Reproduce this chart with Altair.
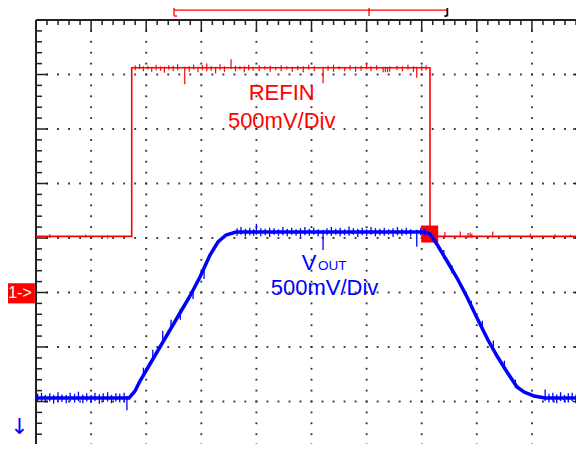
import altair as alt
import pandas as pd

# ---------------- screen geometry (divisions) ----------------
X_DIVS = 10
Y_DIVS = 8
MINOR = 5
x_view = [0.0, 9.800]       # visible part of the 10 horizontal divisions
y_view = [0.2202, 8.0]      # visible part of the 8 vertical divisions

# ---------------- REFIN trace (div units) ----------------
refin_x = [0.0, 1.737, 1.737, 7.15, 7.15, 10.0]
refin_y = [4.03, 4.03, 7.125, 7.125, 4.03, 4.03]

refin_spike_x = [0.25, 0.90, 1.30,
                 1.80, 1.88, 1.95, 2.03, 2.10, 2.18, 2.26, 2.33, 2.41, 2.49, 2.57, 2.70, 2.78,
                 2.86, 2.94, 3.02, 3.10, 3.18, 3.26, 3.34, 3.42, 3.54, 3.62, 3.70, 3.78, 3.86,
                 3.94, 4.05, 4.15, 4.25, 4.35, 4.45, 4.55, 4.65, 4.75, 4.85, 4.95, 5.05, 5.21,
                 5.30, 5.40, 5.50, 5.60, 5.70, 5.80, 5.90, 6.00, 6.08, 6.18, 6.30, 6.34, 6.38,
                 6.42, 6.55, 6.65, 6.75, 6.85, 6.91, 7.00, 7.08,
                 7.42, 7.70, 7.84, 7.88, 7.91, 8.29, 8.60, 8.97, 9.42, 9.70]
refin_spike_lo = [4.00, 4.01, 3.99,
                  7.08, 7.10, 7.06, 7.09, 7.05, 7.08, 7.07, 7.03, 7.09, 7.06, 7.08, 6.82, 7.05,
                  7.09, 7.04, 7.08, 7.06, 7.07, 7.02, 7.08, 7.05, 7.10, 7.06, 7.09, 7.04, 7.08,
                  7.07, 7.06, 7.09, 7.05, 7.08, 7.06, 7.09, 7.05, 7.08, 7.04, 7.09, 7.06, 6.84,
                  7.07, 7.05, 7.09, 7.06, 7.08, 7.05, 7.07, 7.10, 7.06, 7.08, 7.04, 7.04, 7.04,
                  7.05, 7.08, 7.06, 7.09, 7.05, 6.94, 7.07, 7.08,
                  4.01, 4.01, 4.00, 4.01, 4.00, 4.01, 4.01, 4.01, 4.01, 4.02]
refin_spike_hi = [4.07, 4.06, 4.05,
                  7.17, 7.19, 7.15, 7.16, 7.14, 7.18, 7.15, 7.14, 7.17, 7.16, 7.19, 7.14, 7.15,
                  7.18, 7.14, 7.17, 7.20, 7.15, 7.14, 7.19, 7.15, 7.28, 7.16, 7.15, 7.15, 7.18,
                  7.14, 7.17, 7.15, 7.16, 7.14, 7.17, 7.15, 7.14, 7.16, 7.15, 7.18, 7.15, 7.14,
                  7.16, 7.18, 7.15, 7.14, 7.17, 7.15, 7.16, 7.21, 7.15, 7.17, 7.14, 7.14, 7.14,
                  7.15, 7.16, 7.15, 7.18, 7.15, 7.14, 7.16, 7.17,
                  4.11, 4.12, 4.09, 4.10, 4.08, 4.12, 4.05, 4.08, 4.07, 4.06]

# ---------------- VOUT trace (div units) ----------------
vout_x = [0.0, 1.688, 1.797, 1.887, 2.069, 2.250, 2.432, 2.613, 2.795, 2.976, 3.158,
          3.303, 3.448, 3.630, 7.060, 7.151, 7.296, 7.459, 7.641, 7.822, 8.004, 8.203,
          8.367, 8.548, 8.730, 8.857, 9.038, 9.238, 10.0]
vout_y = [1.064, 1.064, 1.193, 1.376, 1.688, 2.000, 2.312, 2.624, 2.936, 3.284, 3.688,
          3.927, 4.055, 4.110, 4.110, 4.073, 3.853, 3.578, 3.266, 2.917, 2.532, 2.128,
          1.835, 1.541, 1.266, 1.174, 1.101, 1.064, 1.064]

vout_spike_x = [0.03, 0.10, 0.17, 0.25, 0.32, 0.40, 0.47, 0.55, 0.62, 0.70, 0.77, 0.85,
                0.92, 1.00, 1.07, 1.15, 1.22, 1.30, 1.37, 1.45, 1.52, 1.60, 1.65,
                1.95, 2.12, 2.30, 2.45, 2.62, 2.85, 3.05,
                3.65, 3.72, 3.80, 3.88, 3.95, 4.00, 4.08, 4.16, 4.24, 4.32, 4.40, 4.48,
                4.56, 4.64, 4.72, 4.80, 4.88, 4.96, 5.04, 5.12, 5.21, 5.28, 5.36, 5.44,
                5.52, 5.60, 5.68, 5.76, 5.84, 5.92, 6.00, 6.08, 6.16, 6.24, 6.32, 6.40,
                6.48, 6.56, 6.64, 6.72, 6.80, 6.91, 6.98, 7.05,
                7.40, 7.55, 7.90, 8.10, 8.30, 8.50, 8.70,
                9.24, 9.31, 9.38, 9.45, 9.52, 9.59, 9.66, 9.73, 9.80, 9.87, 9.94]
vout_spike_lo = [0.99, 1.01, 0.98, 1.00, 0.96, 1.01, 0.99, 0.97, 1.00, 0.98, 1.01, 0.97,
                 1.00, 0.98, 1.01, 0.96, 0.99, 1.00, 0.97, 1.00, 0.98, 1.00, 0.84,
                 1.45, 1.78, 2.10, 2.33, 2.50, 2.88, 3.25,
                 4.04, 4.06, 4.03, 4.05, 4.04, 4.06, 4.03, 4.05, 4.02, 4.06, 4.04, 4.05,
                 4.03, 4.06, 4.04, 4.02, 4.05, 4.04, 4.06, 4.03, 3.78, 4.05, 4.04, 4.06,
                 4.03, 4.05, 4.04, 4.06, 4.02, 4.05, 4.04, 4.06, 4.03, 4.05, 4.04, 4.06,
                 4.02, 4.05, 4.04, 4.06, 4.03, 3.84, 4.05, 4.04,
                 3.62, 3.35, 2.70, 2.30, 1.95, 1.58, 1.25,
                 1.01, 0.98, 1.00, 0.97, 1.01, 0.99, 0.98, 1.00, 0.97, 1.01, 0.99]
vout_spike_hi = [1.14, 1.16, 1.12, 1.15, 1.12, 1.17, 1.13, 1.12, 1.16, 1.14, 1.18, 1.13,
                 1.15, 1.12, 1.16, 1.13, 1.15, 1.17, 1.12, 1.15, 1.14, 1.16, 1.10,
                 1.62, 1.95, 2.30, 2.50, 2.70, 3.05, 3.45,
                 4.18, 4.20, 4.17, 4.19, 4.16, 4.26, 4.18, 4.17, 4.19, 4.18, 4.16, 4.20,
                 4.17, 4.19, 4.16, 4.18, 4.20, 4.17, 4.19, 4.16, 4.15, 4.18, 4.20, 4.17,
                 4.19, 4.16, 4.21, 4.18, 4.17, 4.19, 4.16, 4.20, 4.18, 4.17, 4.19, 4.16,
                 4.18, 4.20, 4.17, 4.19, 4.16, 4.15, 4.18, 4.17,
                 3.78, 3.50, 2.85, 2.48, 2.12, 1.75, 1.40,
                 1.22, 1.14, 1.16, 1.13, 1.17, 1.12, 1.15, 1.16, 1.13, 1.15, 1.14]

# trigger point marker
trig_point = [7.145, 4.073]
# trigger window bar above the screen
trig_start, trig_end, trig_pos = 2.505, 7.465, 6.044
bar_level, bracket_top, bracket_bottom, t_top = 8.183, 8.306, 8.073, 8.294
serif = 0.054
# channel 1 ground marker and arrow
ch1_box = [-0.563, -0.02, 2.80, 3.17]
ch1_text = ["1->"]
arrow_text = ["\u2193"]
arrow_pos = [-0.30, 0.53]

# labels
refin_label = ["REFIN", "500mV/Div"]
refin_label_x = [4.459, 4.459]
refin_label_y = [6.523, 6.018]
vout_main = ["V", "500mV/Div"]
vout_main_x = [4.822, 5.236]
vout_main_y = [3.413, 2.963]
vout_sub = ["OUT"]

RED = "#ff0000"
BLUE = "#0000ff"
INK = "#222222"
FONT = "Liberation Sans"

xs = alt.Scale(domain=x_view, nice=False, zero=False)
ys = alt.Scale(domain=y_view, nice=False, zero=False)


def X(f):
    return alt.X(f"{f}:Q", scale=xs, axis=None)


def Y(f):
    return alt.Y(f"{f}:Q", scale=ys, axis=None)


# ---------------- graticule ----------------
dots = []
for i in range(1, X_DIVS):
    for k in range(1, Y_DIVS * MINOR):
        dots.append({"x": i, "y": k / MINOR})
for j in range(1, Y_DIVS):
    for k in range(1, X_DIVS * MINOR):
        dots.append({"x": k / MINOR, "y": j})
dots_df = pd.DataFrame(dots)

ticks = []
for k in range(0, X_DIVS * MINOR + 1):
    xv = k / MINOR
    major = k % MINOR == 0
    ticks.append({"x": xv, "x2": xv, "y": Y_DIVS, "y2": Y_DIVS - (0.215 if major else 0.092)})
    ticks.append({"x": xv, "x2": xv, "y": 0, "y2": (0.23 if major else 0.14)})
for k in range(0, Y_DIVS * MINOR + 1):
    yv = k / MINOR
    major = k % MINOR == 0
    ticks.append({"x": 0, "x2": (0.218 if major else 0.109), "y": yv, "y2": yv})
    ticks.append({"x": X_DIVS, "x2": X_DIVS - (0.254 if major else 0.187), "y": yv, "y2": yv})
ticks_df = pd.DataFrame(ticks)

border_df = pd.DataFrame([
    {"x": 0, "x2": 0, "y": 0, "y2": Y_DIVS},
    {"x": 0, "x2": X_DIVS, "y": Y_DIVS, "y2": Y_DIVS},
])

dots_layer = alt.Chart(dots_df).mark_square(size=3.5, color="#333333", opacity=1).encode(x=X("x"), y=Y("y"))
ticks_layer = alt.Chart(ticks_df).mark_rule(color=INK, strokeWidth=1.5).encode(
    x=X("x"), x2=alt.X2("x2"), y=Y("y"), y2=alt.Y2("y2"))
border_layer = alt.Chart(border_df).mark_rule(color=INK, strokeWidth=2).encode(
    x=X("x"), x2=alt.X2("x2"), y=Y("y"), y2=alt.Y2("y2"))

# ---------------- traces ----------------
refin_df = pd.DataFrame({"x": refin_x, "y": refin_y, "i": range(len(refin_x))})
refin_sp = pd.DataFrame({"x": refin_spike_x, "y": refin_spike_lo, "y2": refin_spike_hi})
vout_df = pd.DataFrame({"x": vout_x, "y": vout_y, "i": range(len(vout_x))})
vout_sp = pd.DataFrame({"x": vout_spike_x, "y": vout_spike_lo, "y2": vout_spike_hi})

refin_line = alt.Chart(refin_df).mark_line(color=RED, strokeWidth=1.6).encode(
    x=X("x"), y=Y("y"), order="i:Q")
refin_spikes = alt.Chart(refin_sp).mark_rule(color=RED, strokeWidth=1.2).encode(
    x=X("x"), y=Y("y"), y2=alt.Y2("y2"))

trig_df = pd.DataFrame({"x": [trig_point[0]], "y": [trig_point[1]]})
trig_sq = alt.Chart(trig_df).mark_square(size=289, color=RED, opacity=1).encode(x=X("x"), y=Y("y"))

vout_line = alt.Chart(vout_df).mark_line(color=BLUE, strokeWidth=3.5).encode(
    x=X("x"), y=Y("y"), order="i:Q")
vout_spikes = alt.Chart(vout_sp).mark_rule(color=BLUE, strokeWidth=1.3).encode(
    x=X("x"), y=Y("y"), y2=alt.Y2("y2"))

# ---------------- labels ----------------
refin_txt = alt.Chart(pd.DataFrame({"x": refin_label_x, "y": refin_label_y, "t": refin_label})).mark_text(
    align="center", baseline="alphabetic", font=FONT, fontSize=22, color=RED).encode(
    x=X("x"), y=Y("y"), text="t:N")
vout_txt_c = alt.Chart(pd.DataFrame({"x": vout_main_x[1:], "y": vout_main_y[1:], "t": vout_main[1:]})).mark_text(
    align="center", baseline="alphabetic", font=FONT, fontSize=22, color=BLUE).encode(
    x=X("x"), y=Y("y"), text="t:N")
vout_txt_v = alt.Chart(pd.DataFrame({"x": vout_main_x[:1], "y": vout_main_y[:1], "t": vout_main[:1]})).mark_text(
    align="left", baseline="alphabetic", font=FONT, fontSize=22, color=BLUE).encode(
    x=X("x"), y=Y("y"), text="t:N")
vout_txt_sub = alt.Chart(pd.DataFrame({"x": [5.118], "y": [3.404], "t": vout_sub})).mark_text(
    align="left", baseline="alphabetic", font=FONT, fontSize=13.5, color=BLUE).encode(
    x=X("x"), y=Y("y"), text="t:N")

# ---------------- trigger window bar ----------------
bar_red = pd.DataFrame([
    {"x": trig_start, "x2": trig_end, "y": bar_level, "y2": bar_level},
    {"x": trig_start, "x2": trig_start, "y": bracket_bottom, "y2": bracket_top},
    {"x": trig_start, "x2": trig_start + serif, "y": bracket_top, "y2": bracket_top},
    {"x": trig_start, "x2": trig_start + serif, "y": bracket_bottom, "y2": bracket_bottom},
    {"x": trig_pos, "x2": trig_pos, "y": bracket_bottom, "y2": t_top},
    {"x": trig_pos - 0.065, "x2": trig_pos + 0.065, "y": t_top, "y2": t_top},
])
bar_black = pd.DataFrame([
    {"x": trig_end, "x2": trig_end, "y": bracket_bottom, "y2": bracket_top},
    {"x": trig_end - serif, "x2": trig_end, "y": bracket_top, "y2": bracket_top},
    {"x": trig_end - serif, "x2": trig_end, "y": bracket_bottom, "y2": bracket_bottom},
])
bar_red_layer = alt.Chart(bar_red).mark_rule(color=RED, strokeWidth=1.3).encode(
    x=X("x"), x2=alt.X2("x2"), y=Y("y"), y2=alt.Y2("y2"))
bar_black_layer = alt.Chart(bar_black).mark_rule(color="#111111", strokeWidth=1.8).encode(
    x=X("x"), x2=alt.X2("x2"), y=Y("y"), y2=alt.Y2("y2"))

# ---------------- channel marker + arrow ----------------
ch1_df = pd.DataFrame({"x": [ch1_box[0]], "x2": [ch1_box[1]], "y": [ch1_box[2]], "y2": [ch1_box[3]]})
ch1_rect = alt.Chart(ch1_df).mark_rect(color=RED).encode(x=X("x"), x2=alt.X2("x2"), y=Y("y"), y2=alt.Y2("y2"))
ch1_lbl = alt.Chart(pd.DataFrame({"x": [(ch1_box[0] + ch1_box[1]) / 2], "y": [(ch1_box[2] + ch1_box[3]) / 2], "t": ch1_text})).mark_text(
    align="center", baseline="middle", font=FONT, fontSize=16, color="white").encode(
    x=X("x"), y=Y("y"), text="t:N")
arrow = alt.Chart(pd.DataFrame({"x": [arrow_pos[0]], "y": [arrow_pos[1]], "t": arrow_text})).mark_text(
    align="center", baseline="middle", font="DejaVu Sans", fontSize=22, color=BLUE).encode(
    x=X("x"), y=Y("y"), text="t:N")

chart = alt.layer(
    dots_layer, ticks_layer, border_layer,
    refin_line, refin_spikes, trig_sq,
    vout_line, vout_spikes,
    refin_txt, vout_txt_c, vout_txt_v, vout_txt_sub,
    bar_red_layer, bar_black_layer,
    ch1_rect, ch1_lbl, arrow,
).properties(
    width=540, height=424,
    padding={"left": 28, "top": 12, "right": 0, "bottom": 0},
    autosize=alt.AutoSizeParams(type="none"),
    background="white",
).configure_view(stroke="transparent")

chart.save("out.html", embed_options={"renderer": "svg", "actions": False})
